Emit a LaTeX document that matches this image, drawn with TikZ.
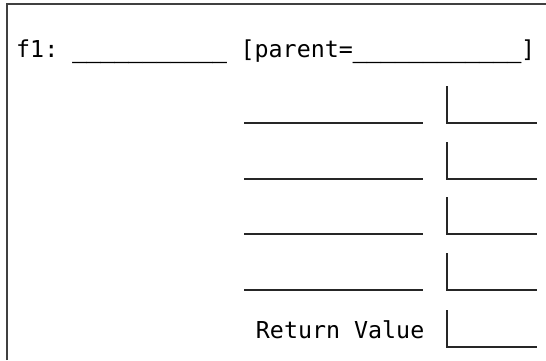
\documentclass[tikz,border=0pt]{standalone}
\usepackage{fontspec}
\setmonofont{DejaVu Sans Mono}
\newfontfamily\ulfont[FakeBold=1.6]{DejaVu Sans Mono}
\newcommand\blanks[1]{{\ulfont\foreach\k in {1,...,#1}{\_}}}
\begin{document}
\begin{tikzpicture}[x=1pt,y=-1pt,
  txt/.style={inner sep=0pt,font=\fontsize{23.3}{28}\ttfamily},
  rule/.style={line width=1.3pt,black!85},
  frame/.style={line width=1.4pt,black!75}]
\useasboundingbox (0,0) rectangle (546,360);
\draw[frame] (7,360) -- (7,4) -- (546,4);
\node[txt,anchor=base west] (title) at (16,57.5) {f1: \blanks{11} [parent=\blanks{12}]};
\foreach \y [count=\i] in {123,179,234,290} {
  \coordinate (l\i a) at (244,\y);
  \coordinate (l\i b) at (423,\y);
  \draw[rule] (l\i a) -- (l\i b);
  \coordinate (v\i t) at (447,\y-37);
  \coordinate (v\i c) at (447,\y);
  \coordinate (v\i e) at (537,\y);
  \draw[rule] (v\i t) -- (v\i c) -- (v\i e);
}
\node[txt,anchor=base east] (ret) at (424.5,338) {Return Value};
\coordinate (rt) at (447,310);
\coordinate (rc) at (447,347);
\coordinate (re) at (537,347);
\draw[rule] (rt) -- (rc) -- (re);
\end{tikzpicture}
\end{document}
